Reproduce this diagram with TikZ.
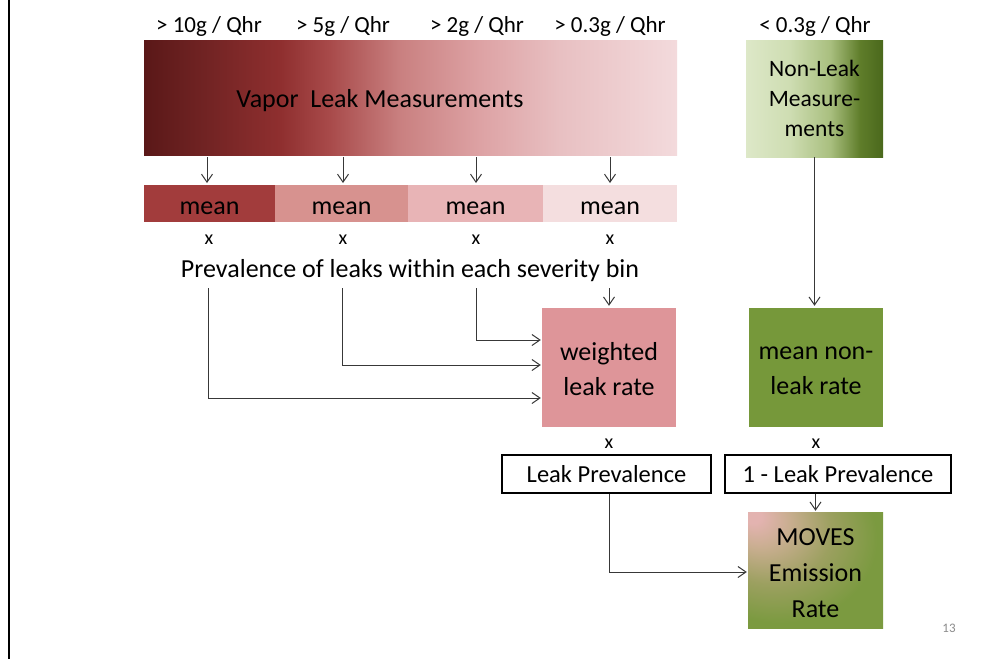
\documentclass[tikz,border=0pt]{standalone}
\usepackage{fontspec}
\setmainfont{Carlito}
\usetikzlibrary{arrows.meta}
\definecolor{va}{HTML}{5A1818}
\definecolor{vb}{HTML}{6E2222}
\definecolor{vc}{HTML}{8F2F2F}
\definecolor{vd}{HTML}{A84A4A}
\definecolor{ve}{HTML}{C98080}
\definecolor{vf}{HTML}{DDA2A4}
\definecolor{vg}{HTML}{E8C0C2}
\definecolor{vh}{HTML}{F3DADC}
\definecolor{ga}{HTML}{DDE8C8}
\definecolor{gb}{HTML}{CEDDB2}
\definecolor{gc}{HTML}{A9BF7F}
\definecolor{gd}{HTML}{5F7D2A}
\definecolor{ge}{HTML}{4A681C}
\definecolor{meanA}{HTML}{A23C3C}
\definecolor{meanB}{HTML}{D7928F}
\definecolor{meanC}{HTML}{E8B4B6}
\definecolor{meanD}{HTML}{F4DEDF}
\definecolor{wcol}{HTML}{DE9599}
\definecolor{mncol}{HTML}{76983A}
\definecolor{mvpink}{HTML}{E3B3B0}
\definecolor{mvsoft}{HTML}{C9AE90}
\definecolor{mvmid}{HTML}{9CA060}
\definecolor{mvgreen}{HTML}{7B9A40}
\definecolor{linec}{HTML}{383838}
\pgfdeclarehorizontalshading{vapor}{100bp}{color(0bp)=(va); color(25bp)=(va); color(30bp)=(vb); color(37.8bp)=(vc); color(42.4bp)=(vd); color(49bp)=(ve); color(56.5bp)=(vf); color(64bp)=(vg); color(75bp)=(vh); color(100bp)=(vh)}
\pgfdeclarehorizontalshading{nonleak}{100bp}{color(0bp)=(ga); color(25bp)=(ga); color(41bp)=(gb); color(55.7bp)=(gc); color(66.6bp)=(gd); color(75bp)=(ge); color(100bp)=(ge)}
\pgfdeclareradialshading{moves}{\pgfpoint{-24bp}{24bp}}{color(0bp)=(mvpink); color(3bp)=(mvpink); color(11bp)=(mvsoft); color(23bp)=(mvmid); color(36bp)=(mvgreen); color(80bp)=(mvgreen)}
\newcommand{\dn}[2]{\raisebox{-#1}[\height][\depth]{#2}}
\begin{document}
\begin{tikzpicture}[x=1pt,y=-1pt,
  box/.style={rectangle, inner sep=0pt, draw=none},
  txt/.style={inner sep=0pt, font=\fontsize{26}{30}\selectfont},
  toplbl/.style={inner sep=0pt, font=\fontsize{23}{27}\selectfont},
  xl/.style={inner sep=0pt, font=\fontsize{20}{22}\selectfont},
  prevbox/.style={rectangle, draw=black, line width=2.5pt, inner sep=0pt, minimum width=#1, minimum height=38pt, font=\fontsize{24.5}{28}\selectfont},
  conn/.style={draw=linec, line width=1pt, -{Straight Barb[length=8pt,width=11pt]}},
]
\useasboundingbox (0,0) rectangle (1004,659);
\fill[white] (0,0) rectangle (1004,659);
\draw[line width=2.6pt] (9,0) -- (9,659);

% top labels
\node[toplbl] (t1) at (209,26) {> 10g / Qhr};
\node[toplbl] (t2) at (343,26) {> 5g / Qhr};
\node[toplbl] (t3) at (477,26) {> 2g / Qhr};
\node[toplbl] (t4) at (610,26) {> 0.3g / Qhr};
\node[toplbl] (t5) at (815,26) {< 0.3g / Qhr};

% vapor box
\node[box, shading=vapor, minimum width=533pt, minimum height=115pt] (vapor) at (410.5,97.5) {};
\node[txt] (vaportxt) at (380,101) {Vapor\ \ Leak Measurements};

% non-leak box
\node[box, shading=nonleak, minimum width=137pt, minimum height=117pt, align=center, font=\fontsize{23.5}{30}\selectfont] (nl) at (814.5,98.5) {Non-Leak\\Measure-\\ments};

% mean boxes
\node[box, fill=meanA, minimum width=131pt, minimum height=37pt, txt] (m1) at (209.5,203.5) {\dn{4.5pt}{mean}};
\node[box, fill=meanB, minimum width=133pt, minimum height=37pt, txt] (m2) at (341.5,203.5) {\dn{4.5pt}{mean}};
\node[box, fill=meanC, minimum width=135pt, minimum height=37pt, txt] (m3) at (475.5,203.5) {\dn{4.5pt}{mean}};
\node[box, fill=meanD, minimum width=134pt, minimum height=37pt, txt] (m4) at (610,203.5) {\dn{4.5pt}{mean}};

\foreach \i/\xx in {1/207,2/343,3/476,4/610}{
  \coordinate (a\i) at (\xx,157);
  \draw[conn] (a\i) -- (\xx,183);
}

% x labels
\node[xl] (x1) at (209,240) {x};
\node[xl] (x2) at (343,240) {x};
\node[xl] (x3) at (476,240) {x};
\node[xl] (x4) at (610,240) {x};

\node[txt] (prev) at (410,271) {Prevalence of leaks within each severity bin};

% weighted
\node[box, fill=wcol, minimum width=134pt, minimum height=119pt, align=center, font=\fontsize{26}{35}\selectfont] (w) at (609,367.5) {\dn{2pt}{weighted}\\\dn{2pt}{leak rate}};
\node[box, fill=mncol, minimum width=134pt, minimum height=119pt, align=center, font=\fontsize{26}{35}\selectfont] (mn) at (816,367.5) {\dn{3pt}{mean non-}\\\dn{3pt}{leak rate}};

\coordinate (p1) at (208,288);
\coordinate (p2) at (342,288);
\coordinate (p3) at (476,288);
\coordinate (p4) at (609,288);
\draw[conn, shorten >=2pt] (p4) -- (w.north);
\draw[conn, shorten >=1pt] (p3) |- ([yshift=27.5pt]w.west);
\draw[conn, shorten >=1pt] (p2) |- ([yshift=2.5pt]w.west);
\draw[conn, shorten >=1pt] (p1) |- ([yshift=-30.5pt]w.west);

\draw[conn, shorten >=2pt] (nl.south) -- (nl.south |- mn.north);

\node[xl] (x5) at (609,444) {x};
\node[xl] (x6) at (816,444) {x};

\node[prevbox=209pt] (lp) at (606.5,474) {Leak Prevalence};
\node[prevbox=226pt] (olp) at (838,474) {1 - Leak Prevalence};

\node[box, shading=moves, minimum width=135pt, minimum height=116pt, align=center, font=\fontsize{26}{36}\selectfont] (mv) at (815.5,570) {\dn{3pt}{MOVES}\\\dn{3pt}{Emission}\\\dn{3pt}{Rate}};

\draw[conn, shorten >=1pt] (mv.north |- olp.south) -- (mv.north);
\draw[conn, shorten >=1pt] ([xshift=2.5pt]lp.south) |- ([yshift=-2pt]mv.west);

\node[inner sep=0pt, text=black!45, font=\fontsize{13}{15}\selectfont] (pg) at (949,628) {13};
\end{tikzpicture}
\end{document}
